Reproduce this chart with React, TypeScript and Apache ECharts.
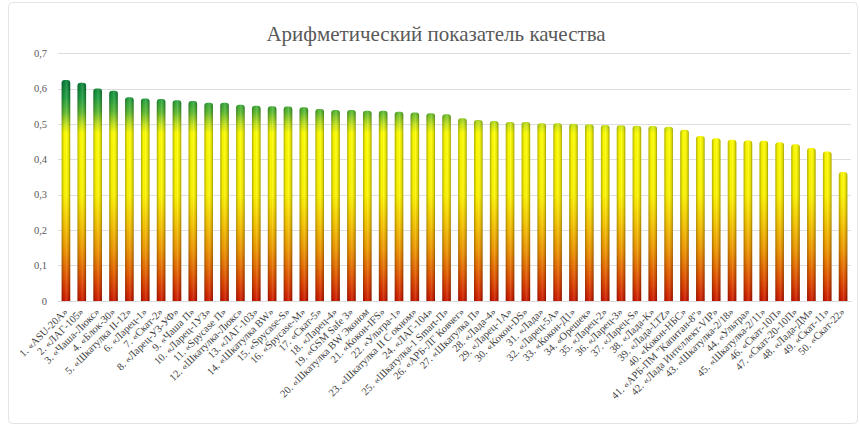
import React, { useEffect, useRef } from "react";
import * as echarts from "echarts";

const categories: string[] = [
  "1. «ASU-20A»",
  "2. «ЛАГ-105»",
  "3. «Чаша-Люкс»",
  "4. «Блок-30»",
  "5. «Шкатулка II-12»",
  "6. «Ларец-1»",
  "7. «Скат-2»",
  "8. «Ларец-УЗ-УФ»",
  "9. «Чаша П»",
  "10. «Ларец-1УЗ»",
  "11. «Spycase П»",
  "12. «Шкатулка-Люкс»",
  "13. «ЛАГ-103»",
  "14. «Шкатулка BW»",
  "15. «Spycase-S»",
  "16. «Spycase-M»",
  "17. «Скат-5»",
  "18. «Ларец-4»",
  "19. «GSM Safe 3»",
  "20. «Шкатулка BW Эконом",
  "21. «Кокон-IFS»",
  "22. «Ультра-1»",
  "23. «Шкатулка II С окном»",
  "24. «ЛАГ-104»",
  "25. «Шкатулка-1 Smart-П»",
  "26. «АРБ-ЛГ Ковчег»",
  "27. «Шкатулка П»",
  "28. «Лада-4»",
  "29. «Ларец-1А»",
  "30. «Кокон-DS»",
  "31. «Лада»",
  "32. «Ларец-5А»",
  "33. «Кокон-Д1»",
  "34. «Орешек»",
  "35. «Ларец-2»",
  "36. «Ларец-3»",
  "37. «Ларец-S»",
  "38. «Лада-К»",
  "39. «Лада-LTZ»",
  "40. «Кокон-НБС»",
  "41. «АРБ-ПМ \"Капитан-8\"»",
  "42. «Лада Интеллект-VIP»",
  "43. «Шкатулка-2/18»",
  "44. «Ультра»",
  "45. «Шкатулка-2/11»",
  "46. «Скат-10П»",
  "47. «Скат-20-10П»",
  "48. «Лада-ДМ»",
  "49. «Скат-11»",
  "50. «Скат-22»",
];

const values: number[] = [
  0.625, 0.617, 0.601, 0.595, 0.576, 0.573, 0.571, 0.568, 0.566, 0.561,
  0.561, 0.555, 0.552, 0.551, 0.55, 0.548, 0.543, 0.54, 0.54, 0.538,
  0.538, 0.535, 0.533, 0.531, 0.528, 0.517, 0.512, 0.509, 0.506, 0.506,
  0.503, 0.503, 0.501, 0.5, 0.498, 0.497, 0.496, 0.495, 0.493, 0.484,
  0.467, 0.46, 0.456, 0.454, 0.453, 0.449, 0.443, 0.433, 0.423, 0.365,
];

const yMax = 0.7;
const yInterval = 0.1;
const titleText = "Арифметический показатель качества";

const SERIF = "Liberation Serif";

export default function App() {
  const ref = useRef<HTMLDivElement>(null);

  useEffect(() => {
    if (!ref.current) return;
    const chart = echarts.init(ref.current, null, { renderer: "svg" });

    const gridTop = 53.5;
    const gridBottom = 125;
    const yTopPx = gridTop;
    const yZeroPx = 426 - gridBottom;
    const off = (v: number) => (yMax - v) / yMax;

    const fill = new echarts.graphic.LinearGradient(
      0,
      yTopPx,
      0,
      yZeroPx,
      [
        { offset: off(0.7), color: "#06703a" },
        { offset: off(0.62), color: "#0b843c" },
        { offset: off(0.575), color: "#22a043" },
        { offset: off(0.535), color: "#5cbc34" },
        { offset: off(0.5), color: "#c8e41c" },
        { offset: off(0.475), color: "#ffff00" },
        { offset: off(0.3), color: "#fff600" },
        { offset: off(0.22), color: "#f8c800" },
        { offset: off(0.14), color: "#f09400" },
        { offset: off(0.06), color: "#e24e00" },
        { offset: off(0), color: "#d01a00" },
      ],
      true
    );

    const shade = new echarts.graphic.LinearGradient(1, 0, 0, 0, [
      { offset: 0, color: "rgba(0,0,0,0.38)" },
      { offset: 0.18, color: "rgba(0,0,0,0.12)" },
      { offset: 0.45, color: "rgba(255,255,255,0.12)" },
      { offset: 0.7, color: "rgba(0,0,0,0.02)" },
      { offset: 1, color: "rgba(0,0,0,0.3)" },
    ]);

    chart.setOption({
      animation: false,
      backgroundColor: "#ffffff",
      title: {
        text: titleText,
        left: 431,
        textAlign: "center",
        top: 18,
        textStyle: {
          fontFamily: SERIF,
          fontSize: 21,
          fontWeight: "normal",
          color: "#595959",
        },
      },
      grid: {
        left: 58,
        right: 9,
        top: gridTop,
        bottom: gridBottom,
        containLabel: false,
      },
      graphic: [
        {
          type: "rect",
          shape: { x: 8.5, y: 2.5, width: 849, height: 421, r: 4 },
          style: { fill: "none", stroke: "#e4e4e4", lineWidth: 1 },
          silent: true,
        },
      ],
      xAxis: {
        type: "category",
        data: categories,
        axisLine: { show: true, lineStyle: { color: "#d9d9d9" } },
        axisTick: { show: false },
        axisLabel: {
          interval: 0,
          rotate: 45,
          fontFamily: SERIF,
          fontSize: 10.5,
          color: "#404040",
          margin: 9,
        },
      },
      yAxis: {
        type: "value",
        min: 0,
        max: yMax,
        interval: yInterval,
        axisLine: { show: false },
        axisTick: { show: false },
        axisLabel: {
          fontFamily: SERIF,
          fontSize: 10.5,
          color: "#595959",
          margin: 11,
          formatter: (v: number) => String(Math.round(v * 10) / 10).replace(".", ","),
        },
        splitLine: { lineStyle: { color: "#dedede" } },
      },
      series: [
        {
          type: "bar",
          data: values,
          barWidth: "54%",
          itemStyle: { color: fill, borderRadius: [3, 3, 0, 0] },
          silent: true,
        },
        {
          type: "bar",
          data: values,
          barWidth: "54%",
          barGap: "-100%",
          itemStyle: { color: shade, borderRadius: [3, 3, 0, 0] },
          silent: true,
        },
      ],
    });

    return () => chart.dispose();
  }, []);

  return (
    <div
      ref={ref}
      style={{ position: "fixed", left: 0, top: 0, width: 860, height: 426 }}
    />
  );
}
